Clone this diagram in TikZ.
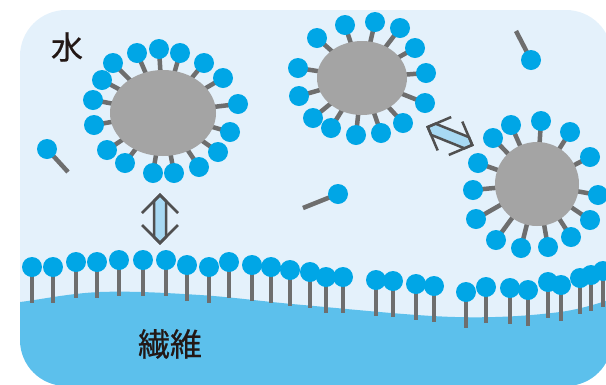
\documentclass[tikz,border=0pt]{standalone}
\usepackage{fontspec}
\newfontfamily\jpfont[FakeBold=0.6]{Noto Sans CJK JP}

\definecolor{water}{HTML}{E4F1FB}
\definecolor{fiber}{HTML}{5CC0EC}
\definecolor{headblue}{HTML}{00A6E6}
\definecolor{tailgray}{HTML}{6E6E6E}
\definecolor{coregray}{HTML}{A4A4A4}
\definecolor{arrowfill}{HTML}{A8D9F3}
\definecolor{arrowline}{HTML}{505050}
\definecolor{ink}{HTML}{231815}

\tikzset{
  tailline/.style={draw=tailgray, line width=4.5pt},
  headdot/.style={fill=headblue},
  coreblob/.style={fill=coregray},
  txt/.style={font=\jpfont\fontsize{32}{32}\selectfont, text=ink, inner sep=0pt},
  dblarr/.pic={
    \filldraw[fill=arrowfill, draw=arrowline, line width=2.5pt]
      (0,-24) -- (6,-18) -- (6,18) -- (0,24) -- (-6,18) -- (-6,-18) -- cycle;
    \draw[arrowline, line width=2.5pt] (-18,-6) -- (0,-24) -- (18,-6);
    \draw[arrowline, line width=2.5pt] (-18,6) -- (0,24) -- (18,6);
  }
}

\begin{document}
\begin{tikzpicture}[x=1pt, y=-1pt]
            \useasboundingbox (0,0) rectangle (606,384);

            % Water and fibre
            \fill[water, rounded corners=46pt] (20,10) rectangle (612,386);
            \begin{scope}
              \clip[rounded corners=46pt] (20,10) rectangle (612,386);
              \fill[fiber] plot[smooth, tension=0.6] coordinates
                {(0,303) (20,302) (100,292) (200,295) (303,305) (455,317) (560,312) (620,296)}
                -- (620,400) -- (0,400) -- cycle;
            \end{scope}

            % Surfactants adsorbed on the fibre
            \foreach \x/\y in {32/267, 53/267, 76/262, 97/262, 119/260, 143/260, 166/260,
                               187/265, 209/267, 229/262, 252/265, 271/267, 290/270, 310/272,
                               326/277, 343/277, 376/280, 393/281, 416/284, 434/286, 466/292,
                               486/287, 510/288, 528/290, 548/282, 561/285, 580/278, 591/275, 603/271} {
              \draw[tailline] (\x,\y) -- ++(0,36);
              \fill[headdot] (\x,\y) circle (10pt);
            }

            % Micelles
            \coordinate (mA) at (163,113);
            \foreach \x/\y in {137/53, 159/49, 180/53, 204/63, 223/78, 238/104, 230/132, 218/152, 199/167,
                               174/173, 153/173, 125/163, 107/150, 94/125, 93/100, 102/80, 113/63} {
              \draw[tailline] (mA) -- (\x,\y);
              \fill[headdot] (\x,\y) circle (10pt);
            }
            \fill[coreblob] (mA) ellipse (53pt and 43pt);

            \coordinate (mB) at (362,78);
            \foreach \x/\y in {298/68, 299/96, 313/118, 331/128, 356/135, 381/133, 403/123,
                               425/103, 426/73, 415/48, 400/28, 375/22, 345/25, 317/38} {
              \draw[tailline] (mB) -- (\x,\y);
              \fill[headdot] (\x,\y) circle (10pt);
            }
            \fill[coreblob] (mB) ellipse (45pt and 37pt);

            \coordinate (mC) at (537,184);
            \foreach \x/\y in {478/163, 473/190, 476/219, 496/240, 521/248, 548/247, 571/237,
                               590/220, 598/195, 590/157, 570/132, 541/121, 511/125, 493/138} {
              \draw[tailline] (mC) -- (\x,\y);
              \fill[headdot] (\x,\y) circle (10pt);
            }
            \fill[coreblob] (mC) circle (42pt);

            % Free surfactants
            \coordinate (fA) at (47,149);
            \coordinate (fB) at (338,194);
            \coordinate (fC) at (531,60);
            \draw[tailline] (fA) -- (68,172);
            \draw[tailline] (fB) -- (303,208);
            \draw[tailline] (fC) -- (516,31);
            \foreach \f in {fA, fB, fC}
              \fill[headdot] (\f) circle (10pt);

            % Arrows
            \pic at (160,219) {dblarr};
            \pic[rotate=68] at (450,136) {dblarr};

            % Labels
            \node[txt] (water) at (67,47) {水};
            \node[txt] (fibre) at (170,344) {繊維};
\end{tikzpicture}
\end{document}
